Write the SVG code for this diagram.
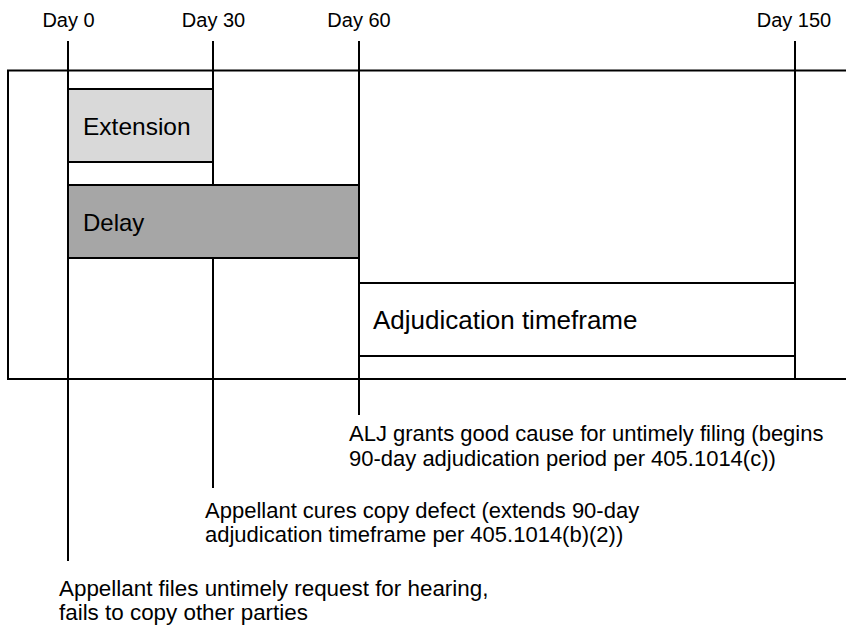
<svg xmlns="http://www.w3.org/2000/svg" width="846" height="631" viewBox="0 0 846 631">
  <style>
    text { font-family: "Liberation Sans", Arial, sans-serif; fill: #000; }
    .day { font-size: 20px; text-anchor: middle; }
    .lbl { font-size: 24.5px; }
    .note { font-size: 22px; }
    .frame { fill: none; stroke: #000; stroke-width: 2; }
    .tick { stroke: #000; stroke-width: 2; fill: none; }
    .box { stroke: #000; stroke-width: 2; }
  </style>
  <rect width="846" height="631" fill="#fff"/>
  <g id="frame">
    <rect class="frame" x="8" y="70.5" width="850" height="308.5"/>
  </g>
  <g id="connectors">
    <line class="tick" x1="68" y1="41" x2="68" y2="561"/>
    <line class="tick" x1="213" y1="41" x2="213" y2="488"/>
    <line class="tick" x1="359" y1="41" x2="359" y2="415"/>
    <line class="tick" x1="795" y1="41" x2="795" y2="379"/>
  </g>
  <g id="day-labels">
    <text class="day" x="68.5" y="26.5">Day 0</text>
    <text class="day" x="213.5" y="26.5">Day 30</text>
    <text class="day" x="359" y="26.5">Day 60</text>
    <text class="day" x="794" y="26.5">Day 150</text>
  </g>
  <g id="extension">
    <rect class="box" x="68" y="89" width="145" height="73" fill="#d9d9d9"/>
    <text class="lbl" x="83" y="135">Extension</text>
  </g>
  <g id="delay">
    <rect class="box" x="68" y="185" width="291" height="73" fill="#a6a6a6"/>
    <text class="lbl" x="83" y="230.5" style="font-size:24px">Delay</text>
  </g>
  <g id="adjudication">
    <rect class="box" x="359" y="283" width="436" height="73" fill="#fff"/>
    <text class="lbl" x="373" y="328.5" style="font-size:26px">Adjudication timeframe</text>
  </g>
  <g id="note-alj">
    <text class="note" x="349" y="440.5">ALJ grants good cause for untimely filing (begins</text>
    <text class="note" x="349" y="465.5">90-day adjudication period per 405.1014(c))</text>
  </g>
  <g id="note-cures">
    <text class="note" x="205" y="517.5">Appellant cures copy defect (extends 90-day</text>
    <text class="note" x="205" y="541.5">adjudication timeframe per 405.1014(b)(2))</text>
  </g>
  <g id="note-files">
    <text class="note" x="59" y="595.5" style="font-size:22.4px">Appellant files untimely request for hearing,</text>
    <text class="note" x="59" y="619.5" style="font-size:22.4px">fails to copy other parties</text>
  </g>
</svg>
